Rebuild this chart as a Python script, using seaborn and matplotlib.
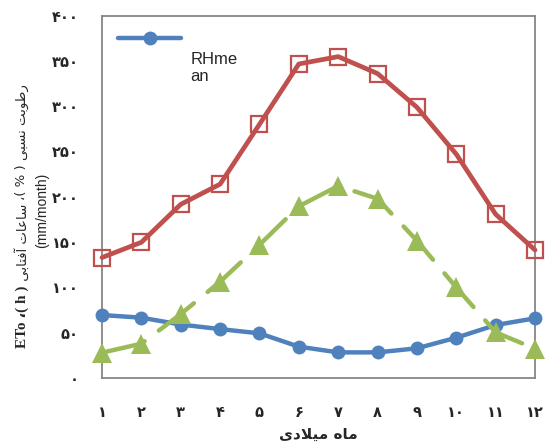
import matplotlib
matplotlib.use("Agg")
import matplotlib.pyplot as plt
import seaborn as sns
import pandas as pd

# Monthly values
months = list(range(1, 13))
rh_mean = [69.5, 66.6, 59, 54, 49.3, 34.6, 28.3, 28.3, 32.8, 44.5, 58.5, 65.9]
eto = [133, 149.8, 191.7, 214, 280, 346.6, 354.7, 336, 298.8, 247, 180.7, 141.3]
sunshine = [28, 37.9, 70.6, 106.3, 147, 189.5, 212, 197.8, 151.6, 100, 50.4, 32.4]
y_ticks = [0, 50, 100, 150, 200, 250, 300, 350, 400]
legend_label = "RHme\nan"
x_title = "ماه میلادی"
y_title_rh = "رطوبت نسبی"
y_title_sun = "ساعات آفتابی"
y_title_unit = "(mm/month)"

# Minimal Persian shaping: map letters to contextual presentation forms
FORMS = {
    'ا': ('\uFE8D', '\uFE8E', None, None),
    'آ': ('\uFE81', '\uFE82', None, None),
    'ب': ('\uFE8F', '\uFE90', '\uFE91', '\uFE92'),
    'ت': ('\uFE95', '\uFE96', '\uFE97', '\uFE98'),
    'د': ('\uFEA9', '\uFEAA', None, None),
    'ر': ('\uFEAD', '\uFEAE', None, None),
    'س': ('\uFEB1', '\uFEB2', '\uFEB3', '\uFEB4'),
    'ط': ('\uFEC1', '\uFEC2', '\uFEC3', '\uFEC4'),
    'ع': ('\uFEC9', '\uFECA', '\uFECB', '\uFECC'),
    'ف': ('\uFED1', '\uFED2', '\uFED3', '\uFED4'),
    'ل': ('\uFEDD', '\uFEDE', '\uFEDF', '\uFEE0'),
    'م': ('\uFEE1', '\uFEE2', '\uFEE3', '\uFEE4'),
    'ن': ('\uFEE5', '\uFEE6', '\uFEE7', '\uFEE8'),
    'ه': ('\uFEE9', '\uFEEA', '\uFEEB', '\uFEEC'),
    'و': ('\uFEED', '\uFEEE', None, None),
    'ی': ('\uFBFC', '\uFBFD', '\uFBFE', '\uFBFF'),
    'LA': ('\uFEFB', '\uFEFC', None, None),
    'LAA': ('\uFEF5', '\uFEF6', None, None),
}


def fa(text):
    tokens, i = [], 0
    while i < len(text):
        c = text[i]
        if c == 'ل' and i + 1 < len(text) and text[i + 1] in ('ا', 'آ'):
            tokens.append('LA' if text[i + 1] == 'ا' else 'LAA')
            i += 2
        else:
            tokens.append(c)
            i += 1
    out = []
    for k, t in enumerate(tokens):
        if t not in FORMS:
            out.append(t)
            continue
        f = FORMS[t]
        prev = tokens[k - 1] if k > 0 else None
        nxt = tokens[k + 1] if k + 1 < len(tokens) else None
        jp = prev in FORMS and FORMS[prev][2] is not None
        jn = nxt in FORMS and f[2] is not None
        if jp and jn:
            out.append(f[3])
        elif jp:
            out.append(f[1])
        elif jn:
            out.append(f[2])
        else:
            out.append(f[0])
    return ''.join(reversed(out))


def fa_digits(n):
    return str(n).translate(str.maketrans('0123456789', '۰۱۲۳۴۵۶۷۸۹'))


sns.set_style("white")
plt.rcParams['font.family'] = ['DejaVu Sans']

BLUE, RED, GREEN = '#4F81BD', '#C0504D', '#9BBB59'
GRAY = '#868686'

fig = plt.figure(figsize=(5.45, 4.44), dpi=100)
ax = fig.add_axes([0.1872, 0.1486, 0.7945, 0.8163])

df = pd.DataFrame({"month": months, "rh": rh_mean, "eto": eto, "sun": sunshine})

sns.lineplot(data=df, x="month", y="rh", ax=ax, color=BLUE, linewidth=3.2,
             marker='o', markersize=10, markeredgewidth=0, clip_on=False, zorder=3)
rh_line = ax.lines[-1]
sns.lineplot(data=df, x="month", y="eto", ax=ax, color=RED, linewidth=3.4,
             marker='s', markersize=11, markerfacecolor='none',
             markeredgecolor=RED, markeredgewidth=1.6, clip_on=False, zorder=3)
sns.lineplot(data=df, x="month", y="sun", ax=ax, color=GREEN, linewidth=3.2,
             marker='^', markersize=14, markeredgewidth=0, clip_on=False, zorder=4)
sun_line = ax.lines[-1]
sun_line.set_dashes((10, 4))
sun_line.set_dash_capstyle('round')

ax.set_xlim(1, 12)
ax.set_ylim(0, 400)
ax.set_xticks(months)
ax.set_xticklabels([fa_digits(m) for m in months], fontsize=10.5, fontweight='bold')
ax.set_yticks(y_ticks)
ax.set_yticklabels([fa_digits(v) for v in y_ticks], fontsize=10.5, fontweight='bold')
ax.tick_params(axis='both', direction='out', length=3.6, width=1.0, color=GRAY)
ax.tick_params(axis='x', pad=16)
ax.tick_params(axis='y', pad=13)
for s in ax.spines.values():
    s.set_visible(True)
    s.set_color(GRAY)
    s.set_linewidth(1.3)
ax.set_xlabel(fa(x_title), fontsize=11, fontweight='bold', labelpad=5)
ax.set_ylabel("")

# Legend: only the relative humidity series
leg = ax.legend(handles=[rh_line], labels=[legend_label], loc='lower left',
                bbox_to_anchor=(0.037, 0.81), frameon=False, borderpad=0,
                borderaxespad=0, handlelength=3.8, handletextpad=0.55,
                handleheight=5.6, prop={'family': 'Liberation Sans', 'size': 12})
for col in leg._legend_handle_box.get_children():
    for item in col.get_children():
        item.align = 'bottom'

# Rotated y-axis title built from pieces in different fonts
pieces = [
    ("ETo ،( h )", dict(family=['Liberation Serif', 'DejaVu Sans'], fontweight='bold', fontsize=11)),
    (" " + fa(y_title_sun) + " ", dict(family=['DejaVu Sans'], fontsize=9.5)),
    ("،( % ) ", dict(family=['DejaVu Sans'], fontsize=9.5)),
    (fa(y_title_rh), dict(family=['DejaVu Sans'], fontsize=9.5)),
]
renderer = fig.canvas.get_renderer()
texts, lengths = [], []
for s, kw in pieces:
    t = fig.text(0, 0, s, rotation=90, ha='center', va='bottom', **kw)
    texts.append(t)
    lengths.append(t.get_window_extent(renderer).height)
H = fig.get_figheight() * fig.dpi
W = fig.get_figwidth() * fig.dpi
center_y = H - 216
cur = center_y - sum(lengths) / 2
for t, L in zip(texts, lengths):
    t.set_position((22 / W, cur / H))
    cur += L
fig.text(42 / W, (H - 210) / H, y_title_unit, rotation=90, ha='center', va='center',
         family=['Liberation Sans'], fontsize=10)

fig.savefig("out.png", dpi=100)
